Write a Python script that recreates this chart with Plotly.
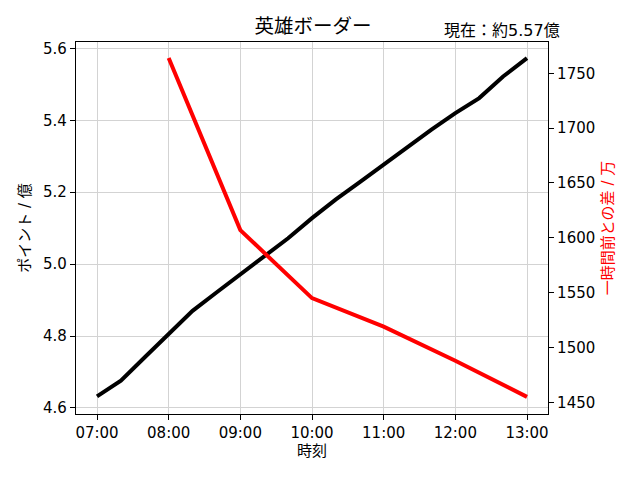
import plotly.graph_objects as go

times = ["07:00", "07:20", "07:40", "08:00", "08:20", "08:40", "09:00", "09:20", "09:40",
         "10:00", "10:20", "10:40", "11:00", "11:20", "11:40", "12:00", "12:20", "12:40", "13:00"]
points = [4.632, 4.676, 4.741, 4.805, 4.870, 4.921, 4.972, 5.024, 5.072,
          5.128, 5.180, 5.228, 5.277, 5.326, 5.374, 5.420, 5.462, 5.522, 5.573]

diff_times = ["08:00", "09:00", "10:00", "11:00", "12:00", "13:00"]
diffs = [1764, 1607, 1545, 1519, 1488, 1455]

x_ticks = ["07:00", "08:00", "09:00", "10:00", "11:00", "12:00", "13:00"]

DAY = "2024-01-01 "
FONT = "DejaVu Sans, Noto Sans CJK JP"

fig = go.Figure()
fig.add_trace(go.Scatter(x=[DAY + t for t in times], y=points, mode="lines",
                         line=dict(color="black", width=4), yaxis="y", showlegend=False))
fig.add_trace(go.Scatter(x=[DAY + t for t in diff_times], y=diffs, mode="lines",
                         line=dict(color="red", width=4), yaxis="y2", showlegend=False))

axis_common = dict(showline=True, linecolor="black", linewidth=1.2, ticks="outside",
                   ticklen=5, tickcolor="black", automargin=False,
                   tickfont=dict(size=15, color="black", family=FONT))

fig.update_layout(
    width=640, height=480,
    margin=dict(l=76, r=92, t=42, b=66),
    paper_bgcolor="white", plot_bgcolor="white",
    font=dict(family=FONT, color="black"),
    title=dict(text="英雄ボーダー", x=313 / 640, xanchor="center", y=1 - 26 / 480, yanchor="middle",
               font=dict(size=19.5, family=FONT, color="black")),
    xaxis=dict(type="date", range=[DAY + "06:42:25", DAY + "13:17:35"],
               tickvals=[DAY + t for t in x_ticks], ticktext=x_ticks,
               showgrid=True, gridcolor="#d3d3d3", gridwidth=1, mirror=True,
               title=dict(text="時刻", font=dict(size=15, family=FONT), standoff=4),
               **axis_common),
    yaxis=dict(range=[4.583, 5.618], tickvals=[4.6, 4.8, 5.0, 5.2, 5.4, 5.6],
               ticktext=["4.6", "4.8", "5.0", "5.2", "5.4", "5.6"],
               showgrid=True, gridcolor="#d3d3d3", gridwidth=1, zeroline=False,
               title=dict(text="ポイント / 億", font=dict(size=15, family=FONT), standoff=8),
               **axis_common),
    yaxis2=dict(overlaying="y", side="right", range=[1439.4, 1778.5],
                tickvals=[1450, 1500, 1550, 1600, 1650, 1700, 1750],
                showgrid=False, zeroline=False,
                title=dict(text="一時間前との差 / 万", font=dict(size=15, family=FONT, color="red"), standoff=8),
                **axis_common),
    annotations=[dict(text="現在：約5.57億", xref="paper", yref="paper", x=(442 - 76) / 472, y=1 + 12 / 372,
                      xanchor="left", yanchor="middle", showarrow=False,
                      font=dict(size=16, family=FONT, color="black"))],
)

fig.write_html("out.html", config={"displayModeBar": False},
               post_script="document.body.style.margin='0';document.body.style.overflow='hidden';")
